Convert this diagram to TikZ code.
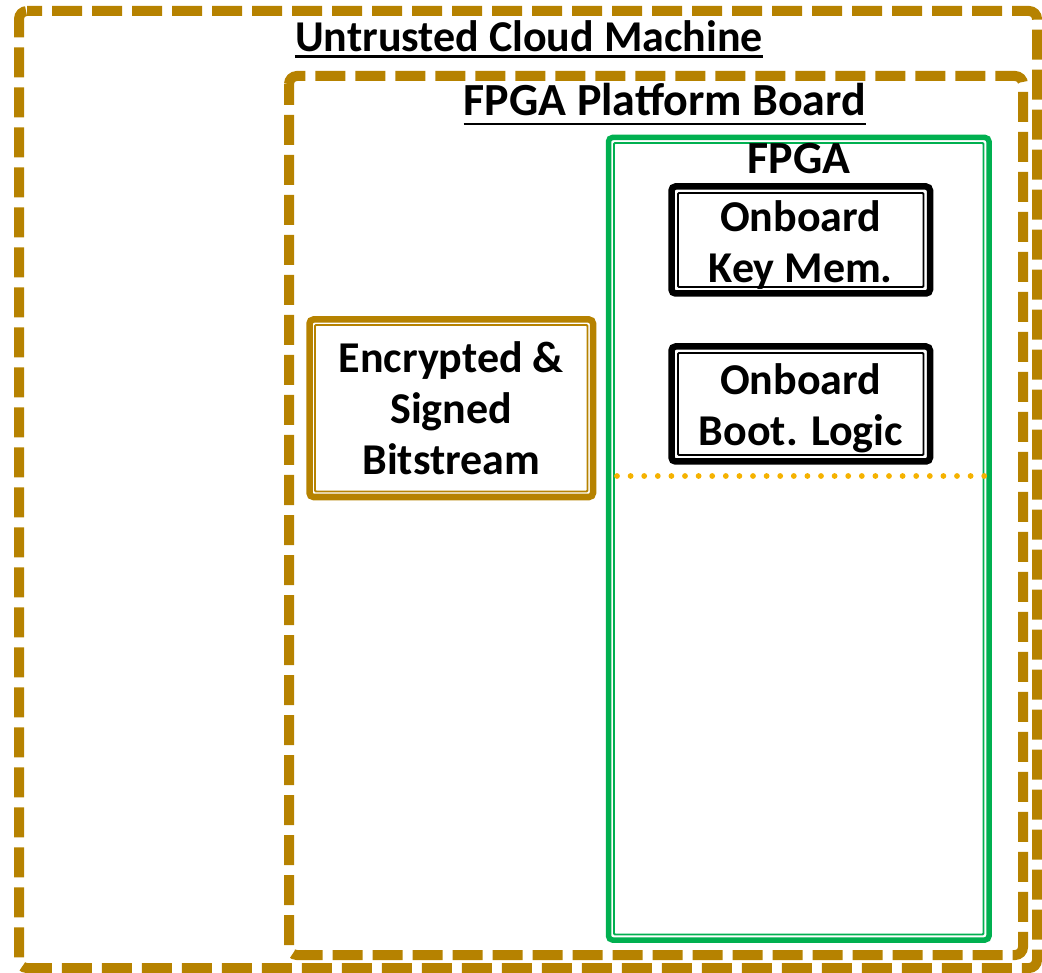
\documentclass[tikz,border=0pt]{standalone}
\usepackage{fontspec}
\setmainfont{Carlito}
\definecolor{gold}{RGB}{182,130,0}
\definecolor{fpgagreen}{RGB}{0,176,80}
\definecolor{amber}{RGB}{245,178,0}
% invisible strut that sets the height of a first text line
\newcommand{\firstline}[1]{\rule{0pt}{#1}}
\begin{document}
\begin{tikzpicture}[x=1pt,y=-1pt,
  font=\fontsize{44}{51}\selectfont\bfseries,
  region/.style={draw=gold, line width=10pt, dash pattern=on 30pt off 10pt, rounded corners=8pt},
  title/.style={anchor=base, inner sep=0pt},
  bigtitle/.style={title, font=\fontsize{46}{51}\selectfont\bfseries},
  uline/.style={line width=2.6pt},
  framebox/.style={rectangle, line width=6.5pt, rounded corners=4pt, align=center,
    inner sep=0pt, outer sep=0pt},
  thinline/.style={line width=1.8pt, rounded corners=1pt},
  dotline/.style={draw=amber, line width=5.8pt, line cap=round, dash pattern=on 0pt off 13.6pt}]
\useasboundingbox (0,0) rectangle (1042,973);

% Untrusted cloud machine (outer dashed region)
\coordinate (c1) at (19,11);
\coordinate (c2) at (1037,11);
\coordinate (c3) at (1037,968);
\coordinate (c4) at (19,968);
\draw[region, dash phase=15pt] (c1) -- (c2) -- (c3) -- (c4) -- cycle;
\node[title] (cloudtitle) at (529,52) {Untrusted Cloud Machine};
\draw[uline] ([yshift=-4.5pt]cloudtitle.base west) -- ([yshift=-4.5pt]cloudtitle.base east);

% FPGA platform board (inner dashed region)
\coordinate (b1) at (289,76);
\coordinate (b2) at (1023,76);
\coordinate (b3) at (1023,955);
\coordinate (b4) at (289,955);
\draw[region, dash phase=9pt] (b1) -- (b4) -- (b3) -- (b2) -- cycle;
\node[bigtitle] (boardtitle) at (665,116) {FPGA Platform Board};
\draw[uline] ([yshift=-8pt]boardtitle.base west) -- ([yshift=-8pt]boardtitle.base east);

% FPGA chip
\node[framebox, draw=fpgagreen, line width=5.5pt, minimum width=380.5pt, minimum height=802.5pt]
  (fpga) at (798.75,538.75) {};
\draw[thinline, draw=fpgagreen] ([shift={(5.5,5.5)}]fpga.north west) rectangle ([shift={(-5.5,-5.5)}]fpga.south east);
\node[bigtitle] (fpgatitle) at (799,174) {FPGA};

% Onboard key memory
\node[framebox, draw=black, minimum width=258.5pt, minimum height=107pt]
  (keymem) at (800.75,240) {\firstline{41pt}Onboard\\Key Mem.};
\draw[thinline] ([shift={(6.5,6.5)}]keymem.north west) rectangle ([shift={(-6.5,-6.5)}]keymem.south east);

% Onboard boot logic
\node[framebox, draw=black, minimum width=258.5pt, minimum height=115pt]
  (bootlogic) at (800.75,404) {\firstline{39pt}Onboard\\Boot. Logic};
\draw[thinline] ([shift={(6.5,6.5)}]bootlogic.north west) rectangle ([shift={(-6.5,-6.5)}]bootlogic.south east);

% Bitstream held on the board
\node[framebox, draw=gold, minimum width=283.5pt, minimum height=177.5pt]
  (bitstream) at (451.25,408.25) {Encrypted \&\\Signed\\Bitstream};
\draw[thinline, draw=gold] ([shift={(5.5,5.5)}]bitstream.north west) rectangle ([shift={(-5.5,-5.5)}]bitstream.south east);

% Dotted boundary inside the FPGA
\coordinate (split) at (0,476);
\draw[dotline] ([xshift=8.5pt]fpga.west |- split) -- ([xshift=-4.5pt]fpga.east |- split);
\end{tikzpicture}
\end{document}
